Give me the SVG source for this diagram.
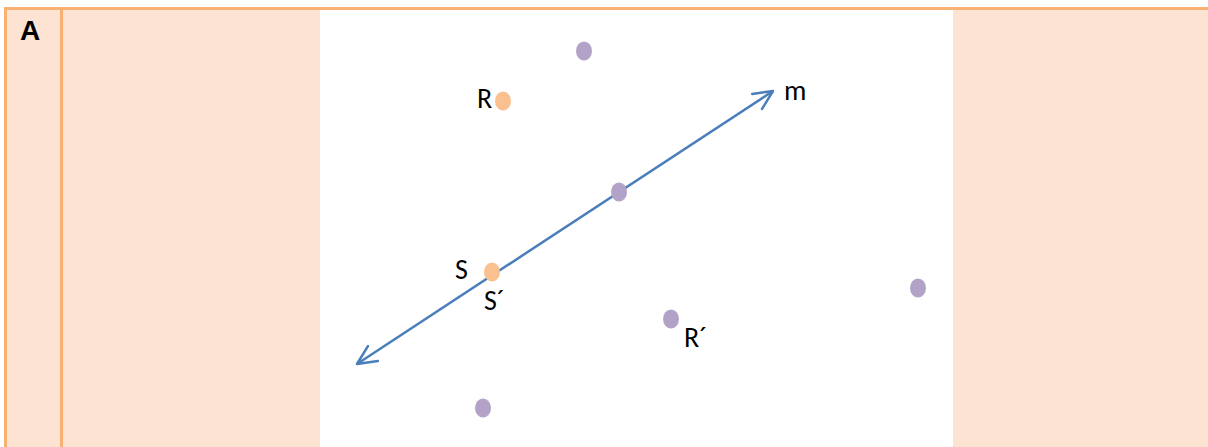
<svg xmlns="http://www.w3.org/2000/svg" width="1208" height="447" viewBox="0 0 1208 447">
<style>
.lbl{font-family:"Carlito","Calibri","Liberation Sans",sans-serif;font-size:28px;fill:#000}
.pur{fill:#b3a2c7}
.org{fill:#fac090}
.bd{stroke:#f9b073;stroke-width:3;fill:none}
</style>
<defs>
<marker id="ah" markerWidth="24" markerHeight="24" refX="21" refY="12" orient="auto-start-reverse" markerUnits="userSpaceOnUse">
<path d="M2,3 L21,12 L2,21" fill="none" stroke="#4a7ebb" stroke-width="2.5" stroke-linecap="round" stroke-linejoin="round"/>
</marker>
</defs>
<g id="table">
<rect x="5" y="8" width="1203" height="439" fill="#fde3d2"/>
<rect x="320" y="10" width="633" height="437" fill="#ffffff"/>
<line class="bd" x1="4" y1="8.5" x2="1208" y2="8.5"/>
<line class="bd" x1="5.5" y1="8" x2="5.5" y2="447"/>
<line class="bd" x1="61.5" y1="8" x2="61.5" y2="447"/>
<text x="20" y="40" font-family="Liberation Sans, Arial, sans-serif" font-weight="bold" font-size="28">A</text>
</g>
<g id="connectors">
<line x1="357" y1="364" x2="773" y2="91" stroke="#4a7ebb" stroke-width="2.5" marker-start="url(#ah)" marker-end="url(#ah)"/>
</g>
<g id="point-top"><ellipse class="pur" cx="584" cy="51" rx="8" ry="9.5"/></g>
<g id="point-R"><ellipse class="org" cx="503" cy="101" rx="8" ry="9.5"/><text class="lbl" x="477" y="108">R</text></g>
<g id="point-mid"><ellipse class="pur" cx="619" cy="192" rx="8" ry="9.5"/></g>
<g id="point-S"><ellipse class="org" cx="492" cy="272" rx="8" ry="9.5"/><text class="lbl" x="455" y="279">S</text><text class="lbl" x="484" y="310">S´</text></g>
<g id="point-right"><ellipse class="pur" cx="918" cy="288" rx="8" ry="9.5"/></g>
<g id="point-Rp"><ellipse class="pur" cx="671" cy="319" rx="8" ry="9.5"/><text class="lbl" x="684" y="347">R´</text></g>
<g id="point-bottom"><ellipse class="pur" cx="483" cy="408" rx="8" ry="9.5"/></g>
<g id="label-m"><text class="lbl" x="784" y="100">m</text></g>
</svg>
